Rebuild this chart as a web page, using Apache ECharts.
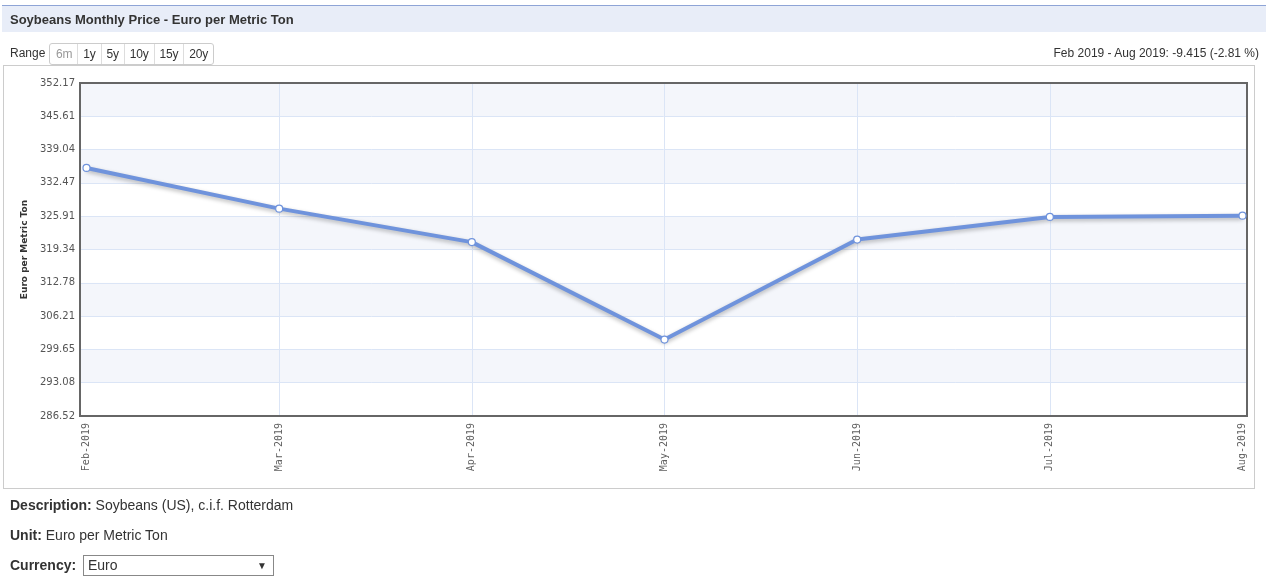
<!DOCTYPE html>
<html>
<head>
<meta charset="utf-8">
<script src="https://cdn.jsdelivr.net/npm/echarts@6/dist/echarts.min.js"></script>
<style>
  html, body { margin: 0; padding: 0; width: 1269px; height: 585px; overflow: hidden; background: #fff; font-family: "Liberation Sans", Arial, sans-serif; color: #333; }
  #chart { position: absolute; left: 0; top: 0; width: 1269px; height: 585px; }
  .abs { position: absolute; }
  #titlebar { left: 2px; top: 5px; width: 1264px; height: 27px; background: #e8edf8; border-top: 1px solid #8ea4d6; box-sizing: border-box; }
  #titlebar span { position: absolute; left: 8px; top: 6px; font-weight: bold; font-size: 13px; color: #333; }
  #box { left: 3px; top: 65px; width: 1252px; height: 424px; border: 1px solid #ccc; box-sizing: border-box; }
  #range { left: 10px; top: 46px; font-size: 12px; color: #333; }
  #btns { left: 49px; top: 43px; height: 22px; border: 1px solid #ccc; border-radius: 3px; display: flex; box-sizing: border-box; background: #fff; }
  #btns div { font-size: 12px; line-height: 20px; padding: 0 5px; border-left: 1px solid #ddd; color: #333; letter-spacing: -0.2px; }
  #btns div:first-child { border-left: none; color: #999; padding-left: 6px; }
  #change { right: 10px; top: 46px; font-size: 12px; color: #333; }
  .foot { left: 10px; font-size: 14px; color: #333; }
  .foot b { color: #333; }
  #sel { left: 83px; top: 555px; width: 191px; height: 21px; border: 1px solid #888; box-sizing: border-box; font-size: 14px; line-height: 19px; padding-left: 4px; background: #fff; }
  #sel i { position: absolute; right: 6px; top: 0; font-style: normal; font-size: 10px; }
</style>
</head>
<body>
<div id="chart"></div>
<div id="titlebar" class="abs"><span>Soybeans Monthly Price - Euro per Metric Ton</span></div>
<div id="range" class="abs">Range</div>
<div id="btns" class="abs"><div>6m</div><div>1y</div><div>5y</div><div>10y</div><div>15y</div><div>20y</div></div>
<div id="change" class="abs">Feb 2019 - Aug 2019: -9.415 (-2.81 %)</div>
<div id="box" class="abs"></div>
<div class="abs foot" style="top:497px"><b>Description:</b> Soybeans (US), c.i.f. Rotterdam</div>
<div class="abs foot" style="top:527px"><b>Unit:</b> Euro per Metric Ton</div>
<div class="abs foot" style="top:557px"><b>Currency:</b></div>
<div id="sel" class="abs">Euro<i>&#9660;</i></div>
<script>
const categories = ['Feb-2019', 'Mar-2019', 'Apr-2019', 'May-2019', 'Jun-2019', 'Jul-2019', 'Aug-2019'];
const prices = [335.42, 327.40, 320.80, 301.59, 321.31, 325.77, 326.01];
const yTicks = ['286.52', '293.08', '299.65', '306.21', '312.78', '319.34', '325.91', '332.47', '339.04', '345.61', '352.17'];
const yMin = 286.52, yMax = 352.17;
const yStep = (yMax - yMin) / 10;

const chart = echarts.init(document.getElementById('chart'), null, { renderer: 'canvas' });
chart.setOption({
  animation: false,
  grid: [
    { left: 80, top: 83, width: 1167, height: 333, show: true, borderColor: '#666', borderWidth: 2, backgroundColor: 'transparent', z: 3 },
    { left: 86.5, top: 83, width: 1156, height: 333, show: false }
  ],
  xAxis: [
    { gridIndex: 0, type: 'value', min: 0, max: 1, show: false },
    {
      gridIndex: 1, type: 'category', data: categories, boundaryGap: false,
      axisLine: { show: false }, axisTick: { show: false },
      splitLine: { show: true, interval: (i) => i !== 0 && i !== categories.length - 1, lineStyle: { color: '#dbe5f6', width: 1 } },
      axisLabel: { rotate: 90, margin: 7, fontFamily: 'DejaVu Sans Mono', fontSize: 10, color: '#606060', interval: 0 }
    }
  ],
  yAxis: [
    {
      gridIndex: 0, type: 'value', min: yMin, max: yMax, interval: yStep,
      name: 'Euro per Metric Ton', nameLocation: 'middle', nameGap: 47, nameRotate: 90,
      nameTextStyle: { fontFamily: 'DejaVu Sans', fontWeight: 'bold', fontSize: 9, color: '#333' },
      axisLine: { show: false }, axisTick: { show: false },
      axisLabel: { margin: 5, fontFamily: 'DejaVu Sans', fontSize: 10, color: '#555', formatter: (v, i) => yTicks[i] },
      splitLine: { show: true, lineStyle: { color: '#dbe5f6', width: 1 } },
      splitArea: { show: true, areaStyle: { color: ['#ffffff', '#f4f6fb'] } }
    },
    { gridIndex: 1, type: 'value', min: yMin, max: yMax, interval: yStep, show: false, splitLine: { show: false } }
  ],
  series: [{
    type: 'line', xAxisIndex: 1, yAxisIndex: 1, data: prices, z: 5,
    symbol: 'circle', symbolSize: 7, showSymbol: true,
    lineStyle: { color: '#6f93dc', width: 4, shadowColor: 'rgba(0,0,0,0.28)', shadowBlur: 4, shadowOffsetY: 2 },
    itemStyle: { color: '#ffffff', borderColor: '#6f93dc', borderWidth: 1.2 }
  }]
});
</script>
</body>
</html>
